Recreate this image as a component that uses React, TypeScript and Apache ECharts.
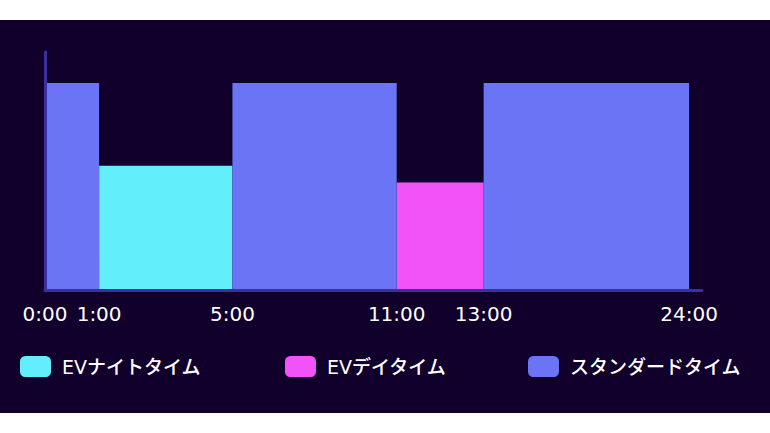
import React, { useEffect, useRef } from "react";
import * as echarts from "echarts";

// Legend / series names
const seriesNames = ["EVナイトタイム", "EVデイタイム", "スタンダードタイム"];
const seriesColors = ["#62eefa", "#f153f8", "#6a74f4"];

// Tick labels at segment boundaries and their (non-linear) positions on the drawn axis
const tickLabels = ["0:00", "1:00", "5:00", "11:00", "13:00", "24:00"];
const tickPositions = [0, 8.4, 29.1, 54.6, 68.1, 100];

// Segments given as boundary indices [from, to]
const nightSegments = [[1, 2]];
const daySegments = [[3, 4]];
const standardSegments = [[0, 1], [2, 3], [4, 5]];

// Relative levels (heights) of each tariff
const nightLevel = 60;
const dayLevel = 52;
const standardLevel = 100;

const segmentData = (segs: number[][], level: number) =>
  segs.map(([a, b]) => [tickPositions[a], tickPositions[b], level]);

export default function App() {
  const ref = useRef<HTMLDivElement>(null);

  useEffect(() => {
    if (!ref.current) return;
    const chart = echarts.init(ref.current, undefined, { renderer: "svg" });

    const font = "'DejaVu Sans', 'Noto Sans CJK JP', sans-serif";
    const axisColor = "#3a2fa3";

    const makeSeries = (name: string, color: string, data: number[][]) => ({
      name,
      type: "custom",
      color,
      encode: { x: [0, 1], y: 2 },
      data,
      renderItem: (params: any, api: any) => {
        const p0 = api.coord([api.value(0), api.value(2)]);
        const p1 = api.coord([api.value(1), 0]);
        return {
          type: "rect",
          shape: { x: p0[0], y: p0[1], width: p1[0] - p0[0], height: p1[1] - p0[1] },
          style: { fill: color },
        };
      },
    });

    const legendBase = {
      top: 351,
      itemWidth: 31,
      itemHeight: 21,
      icon: "roundRect",
      textStyle: {
        color: "#ffffff",
        fontSize: 19,
        fontWeight: 500,
        fontFamily: font,
        padding: [0, 0, 0, 6],
      },
    };

    chart.setOption({
      animation: false,
      backgroundColor: "#ffffff",
      graphic: [
        {
          type: "rect",
          z: -10,
          silent: true,
          shape: { x: 0, y: 20, width: 770, height: 393 },
          style: { fill: "#10002b" },
        },
      ],
      grid: { left: 45, right: 68, top: 52, bottom: 143 },
      xAxis: {
        type: "value",
        min: 0,
        max: 102,
        z: 5,
        axisLine: { show: true, lineStyle: { color: axisColor, width: 3 } },
        axisTick: { show: false },
        splitLine: { show: false },
        axisLabel: {
          customValues: tickPositions,
          color: "#ffffff",
          fontSize: 20,
          fontWeight: 500,
          fontFamily: font,
          margin: 14,
          formatter: (v: number) => {
            let best = 0;
            tickPositions.forEach((p, i) => {
              if (Math.abs(p - v) < Math.abs(tickPositions[best] - v)) best = i;
            });
            return tickLabels[best];
          },
        },
      },
      yAxis: {
        type: "value",
        min: 0,
        max: 115,
        z: 5,
        axisLine: { show: true, lineStyle: { color: axisColor, width: 3 } },
        axisTick: { show: false },
        splitLine: { show: false },
        axisLabel: { show: false },
      },
      legend: [
        { ...legendBase, left: 15, data: [seriesNames[0]] },
        { ...legendBase, left: 280, data: [seriesNames[1]] },
        { ...legendBase, left: 523, data: [seriesNames[2]] },
      ],
      series: [
        makeSeries(seriesNames[0], seriesColors[0], segmentData(nightSegments, nightLevel)),
        makeSeries(seriesNames[1], seriesColors[1], segmentData(daySegments, dayLevel)),
        makeSeries(seriesNames[2], seriesColors[2], segmentData(standardSegments, standardLevel)),
      ],
    });

    return () => chart.dispose();
  }, []);

  return (
    <div
      ref={ref}
      style={{ position: "absolute", left: 0, top: 0, width: 770, height: 433 }}
    />
  );
}
